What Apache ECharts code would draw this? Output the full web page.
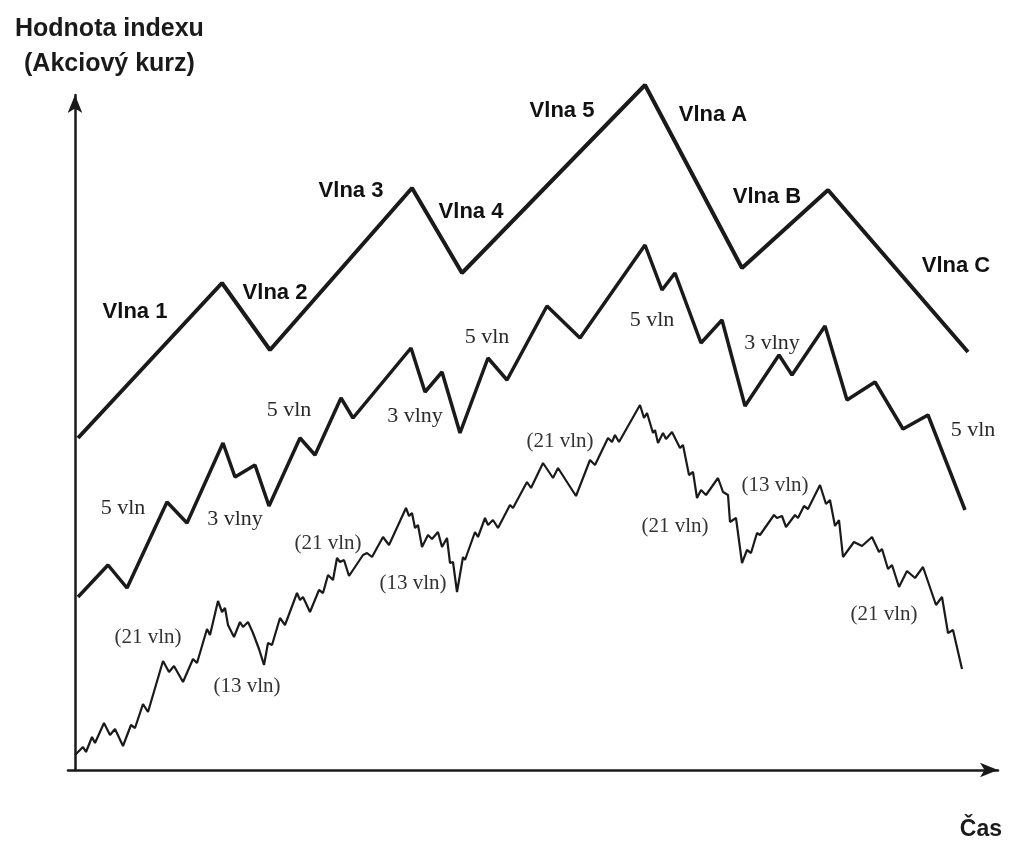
<!DOCTYPE html>
<html>
<head>
<meta charset="utf-8">
<script src="https://cdn.jsdelivr.net/npm/echarts@6/dist/echarts.min.js"></script>
<style>
html,body{margin:0;padding:0;background:#fff;}
#chart{width:1010px;height:852px;}
</style>
</head>
<body>
<div id="chart"></div>
<script>
// Elliott wave scheme: [time, index value]
var primaryWaves = [[3,332],[147,487],[195,420],[337,582],[387,497],[570,685],[667,502],[753,580],[893,418]];

var intermediateWaves = [[3,173],[33,205],[52,182],[92,268],[112,247],[148,327],[160,293],[180,305],[194,264],
  [225,332],[240,315],[266,372],[278,352],[336,422],[350,378],[367,398],[385,337],[413,412],[432,390],
  [472,464],[505,432],[570,525],[587,480],[600,497],[626,427],[647,450],[670,364],[704,415],[717,395],
  [750,444],[772,370],[800,388],[828,341],[853,355],[890,260]];

var minorWaves = [[0,15],[8,23],[11,18],[17,33],[20,27],[29,47],[35,35],[40,41],[48,24],[56,45],[60,42],
  [68,66],[73,58],[88,109],[94,98],[99,104],[108,88],[118,111],[122,107],[132,141],[135,135],[143,169],
  [147,158],[150,162],[153,145],[159,133],[165,148],[168,143],[173,148],[178,137],[184,121],[189,105],
  [193,127],[197,125],[205,152],[210,145],[222,177],[225,170],[228,173],[235,158],[244,180],[248,177],
  [253,195],[258,190],[262,212],[265,208],[269,210],[274,194],[288,215],[292,217],[297,213],[308,233],
  [314,225],[331,262],[334,254],[337,257],[340,242],[343,245],[347,223],[353,235],[357,231],[363,238],
  [367,223],[372,232],[375,207],[378,208],[382,178],[388,213],[390,210],[400,238],[403,233],[410,252],
  [413,245],[418,250],[423,242],[435,265],[438,262],[452,288],[456,282],[468,307],[478,292],[483,302],
  [501,274],[515,310],[520,305],[533,332],[537,328],[540,335],[544,328],[565,365],[569,352],[572,357],
  [578,337],[580,340],[583,327],[588,337],[591,331],[597,338],[605,322],[608,325],[614,295],[618,298],
  [622,272],[626,280],[631,275],[643,292],[648,278],[653,275],[655,248],[661,252],[667,207],[672,220],
  [676,217],[682,237],[685,235],[699,255],[702,252],[707,254],[711,243],[720,255],[723,252],[729,264],
  [733,261],[745,285],[751,266],[755,270],[760,244],[764,250],[768,213],[779,228],[787,224],[797,233],
  [804,218],[807,221],[813,201],[817,205],[824,183],[832,199],[840,192],[848,203],[861,165],[867,173],
  [873,137],[878,140],[887,101]];

// annotations: [time, value, text]
var primaryLabels = [[60,458,'Vlna 1'],[200,477,'Vlna 2'],[276,579,'Vlna 3'],[396,558,'Vlna 4'],
  [487,659,'Vlna 5'],[638,655,'Vlna A'],[692,573,'Vlna B'],[881,504,'Vlna C']];
var intermediateLabels = [[48,262,'5 vln'],[160,251,'3 vlny'],[214,360,'5 vln'],[340,354,'3 vlny'],
  [412,433,'5 vln'],[577,450,'5 vln'],[697,427,'3 vlny'],[898,340,'5 vln']];
var minorLabels = [[73,133,'(21 vln)'],[172,84,'(13 vln)'],[253,227,'(21 vln)'],[338,187,'(13 vln)'],
  [485,329,'(21 vln)'],[600,244,'(21 vln)'],[700,285,'(13 vln)'],[809,156,'(21 vln)']];

var yTitle = 'Hodnota indexu\n(Akciový kurz)';
var xTitle = 'Čas';

var INK = '#1a1a1a';
function labelSeries(items, style) {
  return {
    type: 'scatter', symbolSize: 0, silent: true, z: 5,
    itemStyle: { opacity: 1 },
    data: items.map(function (d) { return { value: [d[0], d[1]], name: d[2] }; }),
    label: Object.assign({
      show: true, opacity: 1, position: [0, 0], align: 'center', verticalAlign: 'middle',
      formatter: function (p) { return p.name; }
    }, style)
  };
}

var chart = echarts.init(document.getElementById('chart'));
chart.setOption({
  backgroundColor: '#ffffff',
  animation: false,
  grid: { left: 68, right: 12, top: 95, bottom: 82 },
  xAxis: {
    type: 'value', min: -7, max: 923,
    axisLine: { onZero: false, symbol: ['none', 'arrow'], symbolSize: [11, 18], lineStyle: { color: INK, width: 2.5 } },
    axisTick: { show: false }, axisLabel: { show: false }, splitLine: { show: false }
  },
  yAxis: {
    type: 'value', min: 0, max: 675,
    axisLine: { show: true, onZero: true, symbol: ['none', 'arrow'], symbolSize: [11, 18], lineStyle: { color: INK, width: 2.5 } },
    axisTick: { show: false }, axisLabel: { show: false }, splitLine: { show: false }
  },
  graphic: [
    { type: 'text', left: 15, top: 12, style: { text: yTitle, fill: INK, font: 'bold 25px "Liberation Sans", Arial, sans-serif', lineHeight: 35, textAlign: 'center', x: 0 } },
    { type: 'text', right: 8, top: 818, style: { text: xTitle, fill: INK, font: 'bold 23px "Liberation Sans", Arial, sans-serif' } }
  ],
  series: [
    { type: 'line', data: primaryWaves, symbol: 'none', clip: false, silent: true,
      lineStyle: { color: INK, width: 4 } },
    { type: 'line', data: intermediateWaves, symbol: 'none', clip: false, silent: true,
      lineStyle: { color: INK, width: 3.5 } },
    { type: 'line', data: minorWaves, symbol: 'none', clip: false, silent: true,
      lineStyle: { color: INK, width: 2.2 } },
    labelSeries(primaryLabels, { color: '#111', fontFamily: '"Liberation Sans", Arial, sans-serif', fontWeight: 'bold', fontSize: 22 }),
    labelSeries(intermediateLabels, { color: '#2a2a2a', fontFamily: '"Liberation Serif", "Times New Roman", serif', fontSize: 22 }),
    labelSeries(minorLabels, { color: '#333', fontFamily: '"Liberation Serif", "Times New Roman", serif', fontSize: 21 })
  ]
});
</script>
</body>
</html>
